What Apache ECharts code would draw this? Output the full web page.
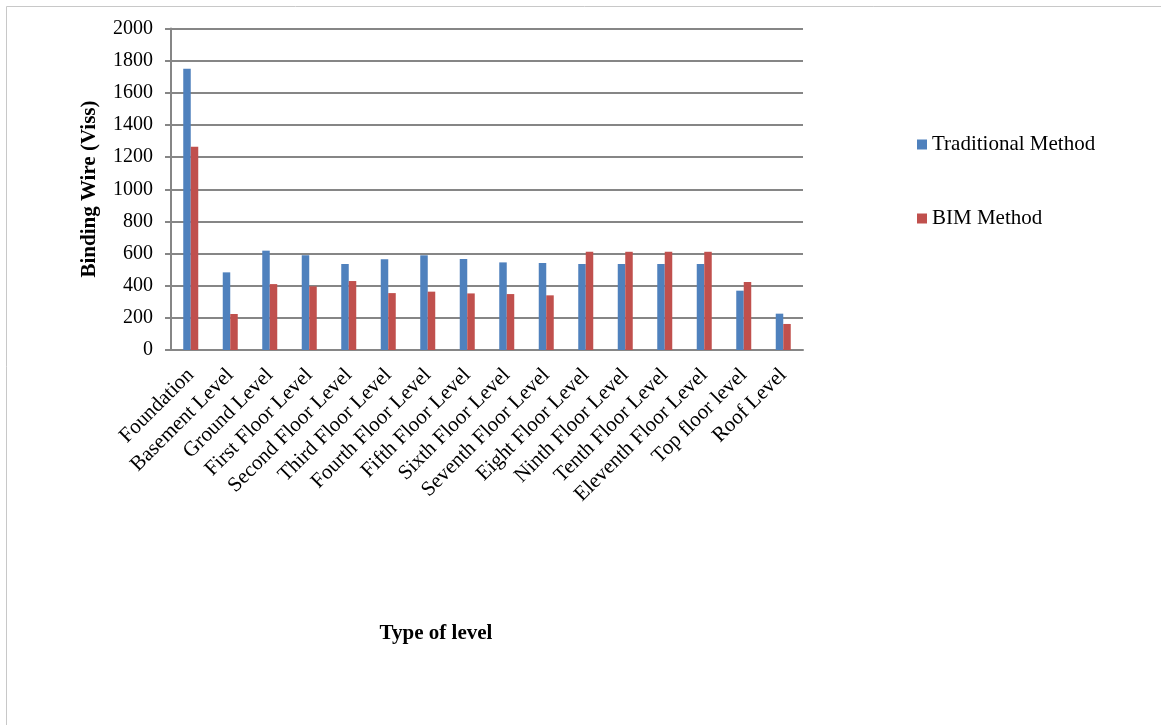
<!DOCTYPE html>
<html><head><meta charset="utf-8">
<script src="https://cdn.jsdelivr.net/npm/echarts@6/dist/echarts.min.js"></script>
<style>html,body{margin:0;padding:0;background:#fff}#c{width:1161px;height:725px}</style>
</head><body><div id="c"></div>
<script>
const categories = ["Foundation","Basement Level","Ground Level","First Floor Level","Second Floor Level","Third Floor Level","Fourth Floor Level","Fifth Floor Level","Sixth Floor Level","Seventh Floor Level","Eight Floor Level","Ninth Floor Level","Tenth Floor Level","Eleventh Floor Level","Top floor level","Roof Level"];
const traditional = [1750,483,618,589,535,564,589,566,545,541,535,535,535,535,369,226];
const bim = [1265,224,410,396,429,354,363,352,348,340,611,611,611,611,423,162];
const yTicks = [0,200,400,600,800,1000,1200,1400,1600,1800,2000];

const FONT = '"Liberation Serif","Times New Roman",serif';
const chart = echarts.init(document.getElementById('c'));
chart.setOption({
  animation:false,
  backgroundColor:'#fff',
  graphic:[
    {type:'rect',shape:{x:6.5,y:6.5,width:1160,height:730},style:{fill:'none',stroke:'#c8c8c8',lineWidth:1}},
    {type:'text',x:90,y:189,rotation:Math.PI/2,style:{text:'Binding Wire (Viss)',font:'bold 21px '+FONT,fill:'#000',textAlign:'center',textVerticalAlign:'middle'}},
    {type:'text',x:436,y:634,style:{text:'Type of level',font:'bold 21px '+FONT,fill:'#000',textAlign:'center',textVerticalAlign:'middle'}}
  ],
  legend:{
    orient:'vertical',left:912,top:129,itemWidth:10,itemHeight:10,itemGap:53,
    icon:'rect',
    textStyle:{fontFamily:FONT,fontSize:21,color:'#000',padding:[0,0,0,0]},
    data:['Traditional Method','BIM Method']
  },
  grid:{left:171,right:358,top:28.5,bottom:375,containLabel:false},
  xAxis:{
    type:'category',data:categories,
    axisLine:{lineStyle:{color:'#868686',width:2}},
    axisTick:{show:false},
    axisLabel:{rotate:45,interval:0,fontFamily:FONT,fontSize:21,color:'#000',margin:22}
  },
  yAxis:{
    type:'value',min:0,max:2000,interval:200,
    axisLine:{show:true,lineStyle:{color:'#868686',width:2}},
    axisTick:{show:true,length:6,lineStyle:{color:'#868686',width:2}},
    splitLine:{lineStyle:{color:'#868686',width:2}},
    axisLabel:{fontFamily:FONT,fontSize:20,color:'#000',margin:18,
      formatter:v=>yTicks.includes(v)?String(v):''}
  },
  series:[
    {name:'Traditional Method',type:'bar',data:traditional,barWidth:7.5,barGap:'0%',itemStyle:{color:'#4F81BD'}},
    {name:'BIM Method',type:'bar',data:bim,barWidth:7.5,barGap:'0%',itemStyle:{color:'#C0504D'}}
  ]
});
</script></body></html>
